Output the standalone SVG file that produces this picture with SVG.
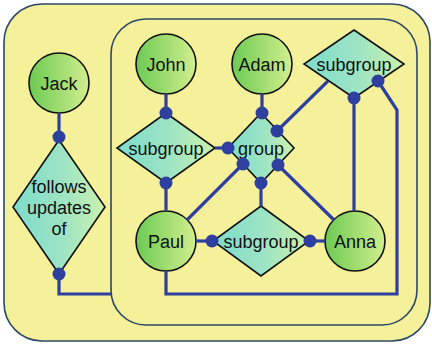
<svg xmlns="http://www.w3.org/2000/svg" width="432" height="344" viewBox="0 0 432 344">
<defs>
<linearGradient id="gc" x1="0" y1="0" x2="1" y2="0"><stop offset="0" stop-color="#6ccb52"/><stop offset="1" stop-color="#d2ee8e"/></linearGradient>
<linearGradient id="gd" x1="0" y1="0" x2="1" y2="0"><stop offset="0" stop-color="#7ddccb"/><stop offset="0.55" stop-color="#9ee4c4"/><stop offset="1" stop-color="#ccf2ac"/></linearGradient>
<style>
.cl{fill:#f5f09a;stroke:#2b4866;stroke-width:1.6}
.c{fill:url(#gc);stroke:#111;stroke-width:1.6}
.d{fill:url(#gd);stroke:#111;stroke-width:1.6}
.e{fill:none;stroke:#2f3f9f;stroke-width:3.2}
.dot{fill:#2f3f9f}
text{font-family:"Liberation Sans",Arial,sans-serif;font-size:18px;fill:#111;text-anchor:middle}
</style>
</defs>
<rect class="cl" x="4" y="4" width="426" height="337" rx="38"/>
<rect class="cl" x="111" y="19" width="306" height="306" rx="35"/>
<g id="jack"><circle class="c" cx="59" cy="83" r="30"/><text x="59" y="89.5">Jack</text></g>
<g id="follows"><polygon class="d" points="59,140 105,207 59,274 13,207"/><text x="59" y="193">follows</text><text x="59" y="214">updates</text><text x="59" y="235">of</text></g>
<g id="john"><circle class="c" cx="166" cy="64" r="30"/><text x="166" y="70.5">John</text></g>
<g id="adam"><circle class="c" cx="262" cy="64" r="30"/><text x="262" y="70.5">Adam</text></g>
<g id="subgroup1"><polygon class="d" points="166,113 215,148 166,183 117,148"/><text x="166" y="155">subgroup</text></g>
<g id="group"><polygon class="d" points="261,113 294,148 261,183 228,148"/><text x="261" y="155">group</text></g>
<g id="subgroup2"><polygon class="d" points="354,30 404,64 354,98 304,64"/><text x="354" y="70.5">subgroup</text></g>
<g id="paul"><circle class="c" cx="166" cy="241" r="30"/><text x="166" y="247.5">Paul</text></g>
<g id="subgroup3"><polygon class="d" points="261,206 309,241 261,276 213,241"/><text x="261" y="247.5">subgroup</text></g>
<g id="anna"><circle class="c" cx="355" cy="241" r="30"/><text x="355" y="247.5">Anna</text></g>
<g id="connectors">
<path class="e" d="M59 113V137"/>
<path class="e" d="M59 274V294H111"/>
<path class="e" d="M166 94V113"/>
<path class="e" d="M166 183V211"/>
<path class="e" d="M215 148H228"/>
<path class="e" d="M262 94V113"/>
<path class="e" d="M328 81L277 131"/>
<path class="e" d="M243 164L187 220"/>
<path class="e" d="M278 165L334 220"/>
<path class="e" d="M261 183V206"/>
<path class="e" d="M196 241H212"/>
<path class="e" d="M310 241H325"/>
<path class="e" d="M354 98V211"/>
<path class="e" d="M378 81L397 110V294H166V271"/>
<circle class="dot" cx="59" cy="137" r="6.5"/>
<circle class="dot" cx="59" cy="274" r="6.5"/>
<circle class="dot" cx="166" cy="113" r="6.5"/>
<circle class="dot" cx="166" cy="183" r="6.5"/>
<circle class="dot" cx="228" cy="148" r="6.5"/>
<circle class="dot" cx="262" cy="113" r="6.5"/>
<circle class="dot" cx="277" cy="131" r="6.5"/>
<circle class="dot" cx="243" cy="164" r="6.5"/>
<circle class="dot" cx="278" cy="165" r="6.5"/>
<circle class="dot" cx="261" cy="183" r="6.5"/>
<circle class="dot" cx="212" cy="241" r="6.5"/>
<circle class="dot" cx="310" cy="241" r="6.5"/>
<circle class="dot" cx="354" cy="98" r="6.5"/>
<circle class="dot" cx="378" cy="81" r="6.5"/>
</g>
</svg>
